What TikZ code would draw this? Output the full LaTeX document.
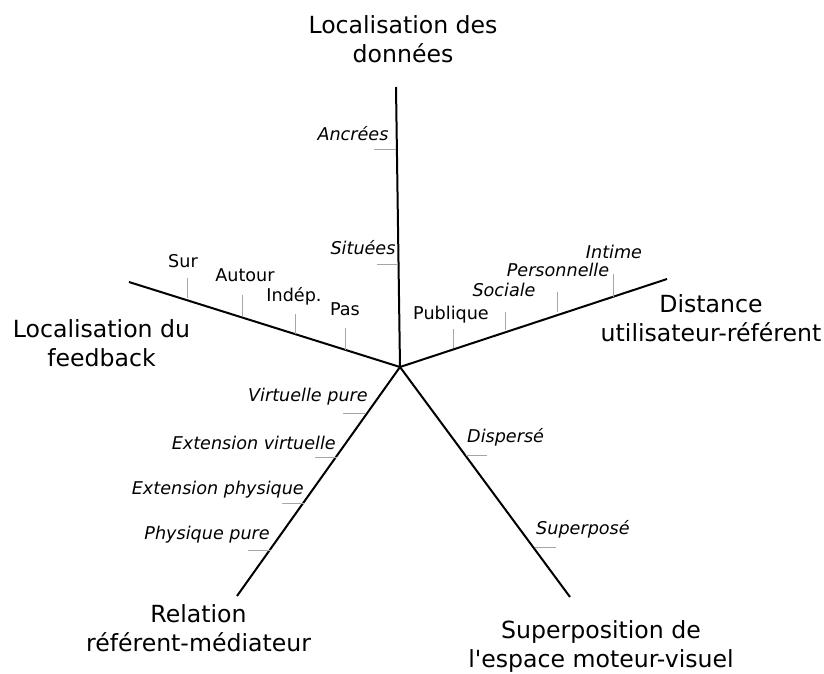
\documentclass[tikz,border=0pt]{standalone}
\usepackage{fontspec}
\setmainfont{DejaVu Sans}[Ligatures=TeXOff]
\begin{document}
\begin{tikzpicture}[x=1pt,y=-1pt,
  axis/.style={line width=2pt,black},
  tick/.style={line width=0.9pt,black!35},
  big/.style={font=\fontsize{23.6}{29}\selectfont,align=center,inner sep=0pt,anchor=base},
  small/.style={font=\fontsize{17.6}{20}\selectfont,inner sep=0pt,text height=0.75em,text depth=0.25em},
  smalli/.style={small,font=\fontsize{17.6}{20}\selectfont\itshape}]
\useasboundingbox (0,0) rectangle (824,673);
\coordinate (c) at (400,367);
\coordinate (top) at (396,87);
\coordinate (right) at (667,279);
\coordinate (left) at (129,282);
\coordinate (dl) at (237,596);
\coordinate (dr) at (570,597);
\draw[axis] (c) -- (top);
\draw[axis] (c) -- (right);
\draw[axis] (c) -- (left);
\draw[axis] (c) -- (dl);
\draw[axis] (c) -- (dr);
% big labels (base = baseline of last line)
\node[big] (ltop) at (403,62.5) {Localisation des\\données};
\node[big] (lright) at (711,341) {Distance\\utilisateur-référent};
\node[big] (lleft) at (101.5,366) {Localisation du\\feedback};
\node[big] (ldl) at (198.5,651) {Relation\\référent-médiateur};
\node[big] (ldr) at (601,667) {Superposition de\\l'espace moteur-visuel};
% top axis ticks
\draw[tick] (374,149) coordinate (ta1s) -- (396.4,149) coordinate (ta1e);
\draw[tick] (377,264) coordinate (ta2s) -- (397.2,264) coordinate (ta2e);
\node[smalli] (anc) at (353,138) {Ancrées};
\node[smalli] (sit) at (363,252) {Situées};
% right axis ticks
\draw[tick] (453,329) coordinate (r1s) -- (453,348) coordinate (r1e);
\draw[tick] (505,312) coordinate (r2s) -- (505,330) coordinate (r2e);
\draw[tick] (557,292) coordinate (r3s) -- (557,312) coordinate (r3e);
\draw[tick] (613,274) coordinate (r4s) -- (613,297) coordinate (r4e);
\node[small] (pub) at (451,317) {Publique};
\node[smalli] (soc) at (504,294) {Sociale};
\node[smalli] (per) at (558,274) {Personnelle};
\node[smalli] (int) at (614,256) {Intime};
% left axis ticks
\draw[tick] (187,278) coordinate (l1s) -- (187,298) coordinate (l1e);
\draw[tick] (242,295) coordinate (l2s) -- (242,317) coordinate (l2e);
\draw[tick] (295,314) coordinate (l3s) -- (295,334) coordinate (l3e);
\draw[tick] (345,328) coordinate (l4s) -- (345,350) coordinate (l4e);
\node[small] (sur) at (183,265) {Sur};
\node[small] (aut) at (245,279) {Autour};
\node[small] (ind) at (294,299) {Indép.};
\node[small] (pas) at (345,313) {Pas};
% down-left ticks
\draw[tick] (343,413) coordinate (d1s) -- (366,413) coordinate (d1e);
\draw[tick] (315,457) coordinate (d2s) -- (337,457) coordinate (d2e);
\draw[tick] (282,503) coordinate (d3s) -- (304,503) coordinate (d3e);
\draw[tick] (248,550) coordinate (d4s) -- (271,550) coordinate (d4e);
\node[smalli,anchor=east] (vp) at (368,399) {Virtuelle pure};
\node[smalli,anchor=east] (ev) at (336,447) {Extension virtuelle};
\node[smalli,anchor=east] (ep) at (304,492) {Extension physique};
\node[smalli,anchor=east] (pp) at (270,537) {Physique pure};
% down-right ticks
\draw[tick] (466,455) coordinate (e1s) -- (487,455) coordinate (e1e);
\draw[tick] (535,547) coordinate (e2s) -- (556,547) coordinate (e2e);
\node[smalli,anchor=west] (dis) at (467,440) {Dispersé};
\node[smalli,anchor=west] (sup) at (536,532) {Superposé};
\end{tikzpicture}
\end{document}
